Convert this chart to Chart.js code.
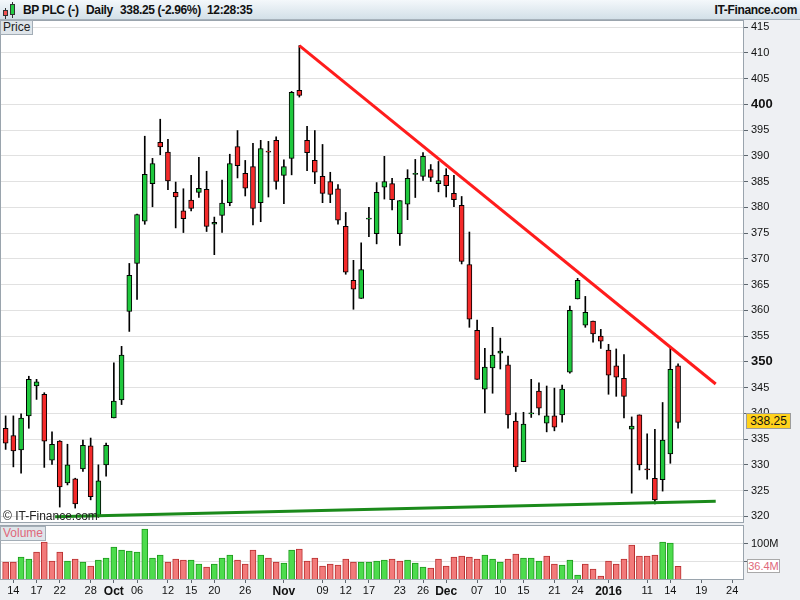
<!DOCTYPE html>
<html>
<head>
<meta charset="utf-8">
<script src="https://cdn.jsdelivr.net/npm/chart.js@4.4.0/dist/chart.umd.min.js"></script>
<style>
  body { margin: 0; width: 800px; height: 600px; overflow: hidden; background: #eef0f3; position: relative;
         font-family: "Liberation Sans", Arial, sans-serif; }
  #head { position: absolute; left: 0; top: 0; width: 800px; height: 20px; box-sizing: border-box;
          background: linear-gradient(#f4f8fb, #d3e0e8); border-bottom: 1px solid #a7b2bb; }
  #head span { position: absolute; top: 3px; font-size: 12px; font-weight: bold; color: #111; white-space: nowrap;
               letter-spacing: -0.35px; }
  .ic { position: absolute; box-sizing: border-box; border: 1px solid #333; }
  .wk { position: absolute; width: 1px; background: #333; }
  #pricebox { position: absolute; left: 0; top: 20px; width: 800px; height: 503px; }
  #volbox { position: absolute; left: 0; top: 523px; width: 800px; height: 77px; }
  .lab { position: absolute; font-size: 12px; box-sizing: border-box; border: 1px solid #a3adb6; background: #dfe5ea;
         padding: 0 2px; line-height: 13px; }
  #wm { position: absolute; left: 3px; top: 509px; font-size: 12px; color: #222; }
  #ptag { position: absolute; left: 746px; top: 413px; width: 45px; height: 16px; box-sizing: border-box;
          background: #ffd21c; border: 1px solid #9c9c9c; font-size: 12px; line-height: 14px; text-align: center; color: #111; }
  #vtag { position: absolute; left: 747px; top: 559px; width: 33px; height: 14px; box-sizing: border-box;
          background: #fff; border: 1px solid #a9a9a9; font-size: 11px; line-height: 12px; text-align: center; color: #e0687a; }
</style>
</head>
<body>
<div id="head">
  <div class="wk" style="left:5px;top:8px;height:11px"></div>
  <div class="ic" style="left:3px;top:10px;width:5px;height:6px;background:#f05050"></div>
  <div class="wk" style="left:12px;top:2px;height:16px"></div>
  <div class="ic" style="left:10px;top:4px;width:5px;height:11px;background:#22cc44"></div>
  <span style="left:23px">BP PLC (-)</span>
  <span style="left:86px">Daily</span>
  <span style="left:120px">338.25 (-2.96%)</span>
  <span style="left:207px">12:28:35</span>
  <span style="right:3px">IT-Finance.com</span>
</div>
<div id="pricebox"><canvas id="price" width="800" height="503"></canvas></div>
<div id="volbox"><canvas id="vol" width="800" height="77"></canvas></div>
<div class="lab" style="left:0;top:20px;height:15px;color:#222">Price</div>
<div class="lab" style="left:0;top:526px;height:15px;color:#e0687a">Volume</div>
<div id="wm">© IT-Finance.com</div>
<div id="ptag">338.25</div>
<div id="vtag">36.4M</div>
<script>
const FONT = '"Liberation Sans", Arial, sans-serif';

// daily candles, 11 Sep 2015 .. 15 Jan 2016 (88 sessions)
const open = [
  337.1, 335.7, 332.9, 339.5, 345.3, 343.7, 330.9, 334.6, 326.5, 327.3, 329.2, 333.7, 320.0, 330.0, 339.1, 342.6,
  359.8, 369.1, 377.3, 384.6, 392.6, 390.7, 382.9, 379.3, 381.4, 382.9, 383.5, 376.7, 378.4, 380.9, 391.8, 386.6,
  387.9, 380.9, 390.9, 393.0, 386.2, 389.5, 402.7, 393.0, 389.1, 386.0, 385.0, 383.6, 376.3, 365.8, 362.3, 377.7,
  374.9, 383.9, 384.6, 374.9, 380.6, 386.4, 386.0, 387.3, 384.6, 386.2, 382.7, 380.4, 368.9, 356.1, 344.7, 348.8,
  351.7, 349.4, 338.5, 330.6, 339.9, 344.3, 338.1, 339.5, 339.7, 348.0, 362.2, 357.1, 357.9, 355.0, 352.3, 349.2,
  346.8, 336.9, 339.7, 329.2, 327.4, 327.1, 332.1, 349.2
];
const high = [
  339.5, 339.5, 339.9, 347.2, 346.6, 344.0, 336.4, 334.7, 334.0, 327.4, 334.8, 335.2, 330.0, 334.2, 349.8, 353.0,
  369.1, 378.7, 393.8, 389.5, 397.1, 393.2, 384.9, 383.6, 386.2, 389.7, 387.0, 378.1, 385.3, 390.3, 394.9, 389.1,
  392.4, 393.0, 392.8, 393.7, 389.2, 402.5, 411.4, 395.7, 394.9, 392.2, 386.8, 384.4, 379.0, 369.7, 373.1, 380.0,
  384.8, 389.9, 385.6, 381.3, 387.3, 389.3, 390.6, 388.3, 388.9, 387.5, 386.2, 382.1, 375.2, 358.1, 352.6, 356.7,
  354.6, 351.1, 340.1, 340.2, 346.6, 345.9, 345.3, 344.9, 345.5, 360.8, 366.2, 362.7, 357.9, 356.3, 353.4, 352.5,
  351.4, 339.3, 339.7, 336.0, 336.9, 342.1, 352.7, 349.6
];
const low = [
  333.0, 329.6, 328.4, 337.1, 342.7, 329.5, 330.1, 321.8, 326.1, 321.6, 328.7, 323.2, 319.8, 327.8, 339.1, 341.7,
  355.9, 362.1, 376.7, 380.1, 390.2, 383.4, 376.0, 375.1, 379.3, 381.9, 375.3, 370.8, 375.1, 380.3, 385.7, 382.2,
  376.6, 377.2, 382.0, 383.5, 380.7, 386.3, 401.4, 387.1, 384.6, 380.9, 380.9, 376.7, 367.0, 360.2, 362.3, 374.3,
  372.9, 381.6, 379.5, 372.6, 377.6, 381.9, 385.2, 385.0, 383.0, 382.0, 380.1, 369.0, 356.7, 346.6, 340.1, 343.9,
  348.6, 337.1, 328.7, 330.6, 339.2, 339.7, 336.4, 336.6, 338.3, 347.8, 362.2, 356.7, 353.8, 352.6, 343.7, 343.3,
  339.1, 324.5, 329.0, 327.2, 322.4, 324.9, 330.3, 337.1
];
const close = [
  334.2, 332.7, 339.1, 346.6, 346.1, 334.6, 334.0, 325.7, 330.0, 322.4, 333.8, 323.8, 326.9, 333.8, 342.4, 351.3,
  366.8, 378.6, 386.4, 388.5, 391.7, 385.1, 382.0, 377.8, 379.8, 383.7, 376.3, 377.1, 380.8, 388.5, 388.1, 383.7,
  379.8, 391.4, 390.7, 385.0, 387.9, 402.3, 401.7, 390.6, 386.8, 382.7, 382.5, 377.5, 367.4, 364.1, 367.9, 377.9,
  382.9, 385.0, 381.5, 381.3, 385.6, 386.6, 389.9, 385.8, 385.2, 384.2, 381.5, 369.5, 358.3, 346.6, 349.0, 351.3,
  352.1, 339.7, 329.6, 337.9, 340.1, 341.0, 339.5, 337.3, 344.7, 360.0, 365.8, 359.6, 355.4, 354.0, 347.4, 347.0,
  343.3, 337.5, 330.0, 329.0, 323.2, 334.8, 348.55, 338.25
];
// volume in millions of shares
const volume = [
  48.6, 48.6, 62.8, 57.0, 77.0, 105.7, 51.4, 77.0, 51.4, 57.0, 48.6, 37.0, 54.0, 60.0, 91.4, 82.8,
  80.0, 77.0, 142.8, 60.0, 68.5, 48.6, 57.0, 54.0, 54.0, 42.8, 34.3, 42.8, 60.0, 68.5, 54.0, 42.8,
  82.8, 68.5, 60.0, 48.6, 45.7, 82.8, 85.7, 51.4, 60.0, 37.0, 42.8, 40.0, 57.0, 48.6, 48.6, 48.6,
  51.4, 54.0, 57.0, 51.4, 54.3, 45.7, 34.3, 31.4, 57.1, 37.1, 62.8, 65.7, 62.8, 57.1, 68.5, 57.1,
  48.6, 57.1, 71.4, 60.0, 60.0, 51.4, 65.7, 42.8, 40.0, 54.3, 11.4, 42.8, 28.6, 8.6, 51.4, 42.8,
  57.1, 97.1, 65.7, 65.7, 68.5, 105.7, 102.8, 36.4
];

// date axis: session index -> label
const tickPos  = [1, 4, 7, 11, 14, 17, 21, 24, 27, 31, 36, 41, 44, 47, 51, 54, 57, 61, 64, 67, 71, 74, 78, 83, 86, 90, 94];
const tickText = ['14', '17', '22', '28', 'Oct', '06', '12', '15', '20', '26', 'Nov', '09', '12', '17', '23', '26', 'Dec',
                  '07', '10', '15', '21', '24', '2016', '11', '14', '19', '24'];
const boldDates = ['Oct', 'Nov', 'Dec', '2016'];
const priceTicks = [320, 325, 330, 335, 340, 345, 350, 355, 360, 365, 370, 375, 380, 385, 390, 395, 400, 405, 410, 415];
const boldPrices = [350, 400];

// trend lines: [session index, price]
const resistance = [{ x: 38, y: 411.4 }, { x: 91.87, y: 345.7 }];
const support = [{ x: 6.4, y: 319.9 }, { x: 91.87, y: 322.95 }];

const X_MIN = -0.6, X_MAX = 95.4;
const idx = close.map((_, i) => i);

const candleCol = idx.map(i => close[i] >= open[i] ? '#1fc83d' : '#f42a2a');
const volUp = idx.map(i => i > 0 && close[i] >= close[i - 1]);
const volFill = volUp.map(u => u ? '#4ddc4d' : '#f27a7a');
const volEdge = volUp.map(u => u ? '#1e9a1e' : '#b83030');

const panelBg = {
  id: 'panelBg',
  beforeDraw(chart) {
    const { ctx, chartArea: a } = chart;
    ctx.save();
    ctx.fillStyle = '#fff';
    ctx.fillRect(a.left, a.top, a.right - a.left, a.bottom - a.top);
    ctx.restore();
  },
  afterDraw(chart) {
    const { ctx, chartArea: a } = chart;
    ctx.save();
    ctx.strokeStyle = '#9aa4ad';
    ctx.lineWidth = 1;
    ctx.strokeRect(a.left - 0.5, a.top - 0.5, a.right - a.left + 1, a.bottom - a.top + 1);
    ctx.restore();
  }
};

const common = {
  responsive: false,
  animation: false,
  events: [],
  plugins: { legend: { display: false }, tooltip: { enabled: false } }
};

new Chart(document.getElementById('price'), {
  type: 'bar',
  data: {
    datasets: [
      { type: 'line', data: resistance, borderColor: '#ff1c1c', borderWidth: 3, pointRadius: 0, order: 0 },
      { type: 'line', data: support, borderColor: '#1b8a1b', borderWidth: 3, pointRadius: 0, order: 0 },
      {
        data: idx.map(i => ({ x: i, y: [open[i], close[i]] })),
        backgroundColor: candleCol, borderColor: '#000', borderWidth: 1, borderSkipped: false,
        barThickness: 5, grouped: false, order: 1
      },
      {
        data: idx.map(i => ({ x: i, y: [low[i], high[i]] })),
        backgroundColor: '#000', borderWidth: 0, barThickness: 1, grouped: false, order: 2
      }
    ]
  },
  options: {
    ...common,
    layout: { padding: { left: 1, top: 1, bottom: 1, right: 0 } },
    scales: {
      x: { type: 'linear', min: X_MIN, max: X_MAX, offset: false, grid: { offset: false }, display: false },
      y: {
        position: 'right', min: 318.9, max: 416.17,
        afterBuildTicks: s => { s.ticks = priceTicks.map(v => ({ value: v })); },
        afterFit: s => { s.width = 57; s.paddingTop = 0; s.paddingBottom = 0; },
        grid: { color: '#e1e1e1', tickColor: '#5e676f', tickLength: 5 },
        border: { color: '#9aa4ad' },
        ticks: {
          padding: 3, color: '#111',
          font: c => (c.tick && boldPrices.includes(c.tick.value))
            ? { family: FONT, size: 13, weight: 'bold' } : { family: FONT, size: 11 },
          callback: v => String(v)
        }
      }
    }
  },
  plugins: [panelBg]
});

new Chart(document.getElementById('vol'), {
  type: 'bar',
  data: {
    datasets: [{
      data: idx.map(i => ({ x: i, y: volume[i] })),
      backgroundColor: volFill, borderColor: volEdge, borderWidth: 1, barThickness: 6
    }]
  },
  options: {
    ...common,
    layout: { padding: { left: 1, top: 3, bottom: 0, right: 0 } },
    scales: {
      x: {
        type: 'linear', min: X_MIN, max: X_MAX, offset: false,
        afterBuildTicks: s => { s.ticks = tickPos.map(v => ({ value: v })); },
        afterFit: s => { s.height = 21; s.paddingLeft = 0; s.paddingRight = 0; },
        grid: { offset: false, drawOnChartArea: false, tickColor: '#5e676f', tickLength: 4 },
        border: { color: '#9aa4ad' },
        ticks: {
          autoSkip: false, maxRotation: 0, padding: 1, color: '#111',
          font: c => {
            const t = c.tick ? tickText[tickPos.indexOf(c.tick.value)] : '';
            return boldDates.includes(t) ? { family: FONT, size: 12, weight: 'bold' } : { family: FONT, size: 11 };
          },
          callback: v => tickText[tickPos.indexOf(v)]
        }
      },
      y: {
        position: 'right', min: 0, max: 151.4,
        afterBuildTicks: s => { s.ticks = [{ value: 50 }, { value: 100 }]; },
        afterFit: s => { s.width = 57; s.paddingTop = 0; s.paddingBottom = 0; },
        grid: { color: '#e1e1e1', tickColor: '#5e676f', tickLength: 5 },
        border: { color: '#9aa4ad' },
        ticks: { padding: 3, color: '#111', font: { family: FONT, size: 11 }, callback: v => v === 100 ? '100M' : '' }
      }
    }
  },
  plugins: [panelBg]
});
</script>
</body>
</html>
